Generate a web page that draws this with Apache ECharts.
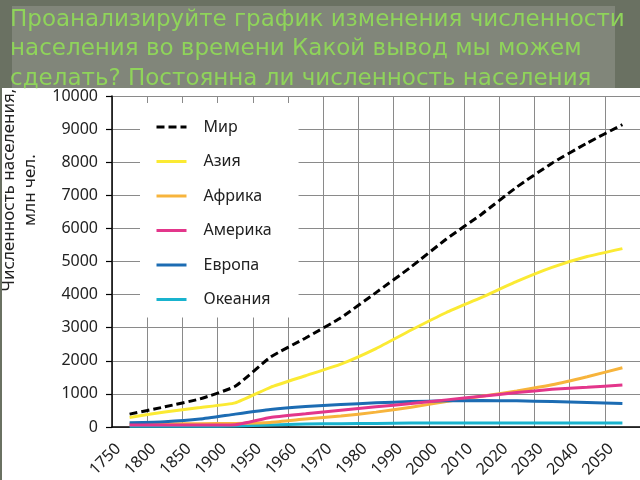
<!DOCTYPE html>
<html>
<head>
<meta charset="utf-8">
<script src="https://cdn.jsdelivr.net/npm/echarts@6/dist/echarts.min.js"></script>
<style>
  html, body { margin: 0; padding: 0; width: 640px; height: 480px; overflow: hidden; background: #6a7162; }
  #paper { position: absolute; left: 12px; top: 6px; width: 603px; height: 82px; background: #81867a; }
  #sheet { position: absolute; left: 2px; top: 88px; width: 638px; height: 392px; background: #ffffff; }
  #chart { position: absolute; left: 0; top: 0; width: 640px; height: 480px; }
</style>
</head>
<body>
<div id="paper"></div>
<div id="sheet"></div>
<div id="chart"></div>
<script>
const years = ['1750','1800','1850','1900','1950','1960','1970','1980','1990','2000','2010','2020','2030','2040','2050'];
const world   = [390, 610, 850, 1230, 2110, 2690, 3300, 4060, 4840, 5680, 6430, 7250, 7970, 8580, 9135];
const asia    = [290, 455, 590, 730, 1200, 1550, 1900, 2370, 2930, 3460, 3915, 4400, 4825, 5150, 5390];
const africa  = [90, 100, 100, 110, 140, 240, 330, 450, 600, 770, 930, 1090, 1275, 1520, 1790];
const america = [60, 60, 60, 70, 290, 400, 510, 610, 710, 820, 930, 1040, 1140, 1200, 1270];
const europe  = [130, 160, 240, 390, 530, 620, 680, 730, 770, 790, 800, 790, 770, 740, 710];
const oceania = [20, 20, 20, 30, 60, 90, 100, 110, 120, 120, 120, 120, 120, 120, 120];
const yTicks = [0, 1000, 2000, 3000, 4000, 5000, 6000, 7000, 8000, 9000, 10000];
const titleLines = ['Проанализируйте график изменения численности', 'населения во времени Какой вывод мы можем', 'сделать? Постоянна ли численность населения'];
const yName = ['Численность населения,', 'млн чел.'];

const chart = echarts.init(document.getElementById('chart'), null, { renderer: 'canvas' });
const font = 'Noto Sans';
function line(name, data, color, dashed) {
  return {
    name: name, type: 'line', data: data, symbol: 'none', smooth: 0.15,
    lineStyle: { color: color, width: 3, type: dashed ? [8, 4] : 'solid' },
    itemStyle: { color: color }
  };
}
chart.setOption({
  backgroundColor: 'transparent',
  animation: false,
  title: {
    text: titleLines.join('\n'), left: 5, top: 0,
    textStyle: { color: '#8fd45a', fontSize: 23, fontWeight: 'normal', fontFamily: 'DejaVu Sans', lineHeight: 29.5 }
  },
  graphic: [{
    type: 'text', x: 20, y: 190, rotation: Math.PI / 2,
    style: {
      text: yName.join('\n'), fill: '#222', font: '17px "Noto Sans"',
      align: 'center', verticalAlign: 'middle', lineHeight: 21
    }
  }],
  legend: {
    orient: 'vertical', left: 140, top: 103,
    data: ['Мир', 'Азия', 'Африка', 'Америка', 'Европа', 'Океания'],
    backgroundColor: '#ffffff',
    padding: [16, 27, 10, 15],
    itemWidth: 30, itemHeight: 14, itemGap: 18.5,
    itemStyle: { opacity: 0 },
    lineStyle: { width: 3 },
    textStyle: { fontSize: 16, color: '#222', fontFamily: font, padding: [0, 0, 0, 12] }
  },
  grid: { left: 112, right: 0, top: 96, bottom: 51, containLabel: false },
  xAxis: {
    type: 'category', data: years, boundaryGap: true,
    axisLine: { lineStyle: { color: '#000', width: 1.5 } },
    axisTick: { length: 6, lineStyle: { color: '#000', width: 1.2 }, interval: 0 },
    axisLabel: { rotate: 45, fontSize: 16, color: '#222', fontFamily: font, margin: 8, interval: 0, padding: [0, 16, 0, 0] },
    splitLine: { show: true, interval: 0, lineStyle: { color: '#8a8a8a', width: 1 } }
  },
  yAxis: {
    type: 'value', min: yTicks[0], max: yTicks[yTicks.length - 1], interval: 1000,
    axisLine: { show: true, lineStyle: { color: '#000', width: 1.5 } },
    axisTick: { show: true, length: 6, lineStyle: { color: '#000', width: 1.2 } },
    axisLabel: { fontSize: 16, color: '#222', fontFamily: font, margin: 14, formatter: function (v) { return String(v); } },
    splitLine: { show: true, lineStyle: { color: '#8a8a8a', width: 1 } }
  },
  series: [
    line('Океания', oceania, '#19b3ce'),
    line('Африка', africa, '#f7b43c'),
    line('Европа', europe, '#1c6cb3'),
    line('Америка', america, '#e3368b'),
    line('Азия', asia, '#fbea33'),
    line('Мир', world, '#000000', true)
  ]
});
</script>
</body>
</html>
